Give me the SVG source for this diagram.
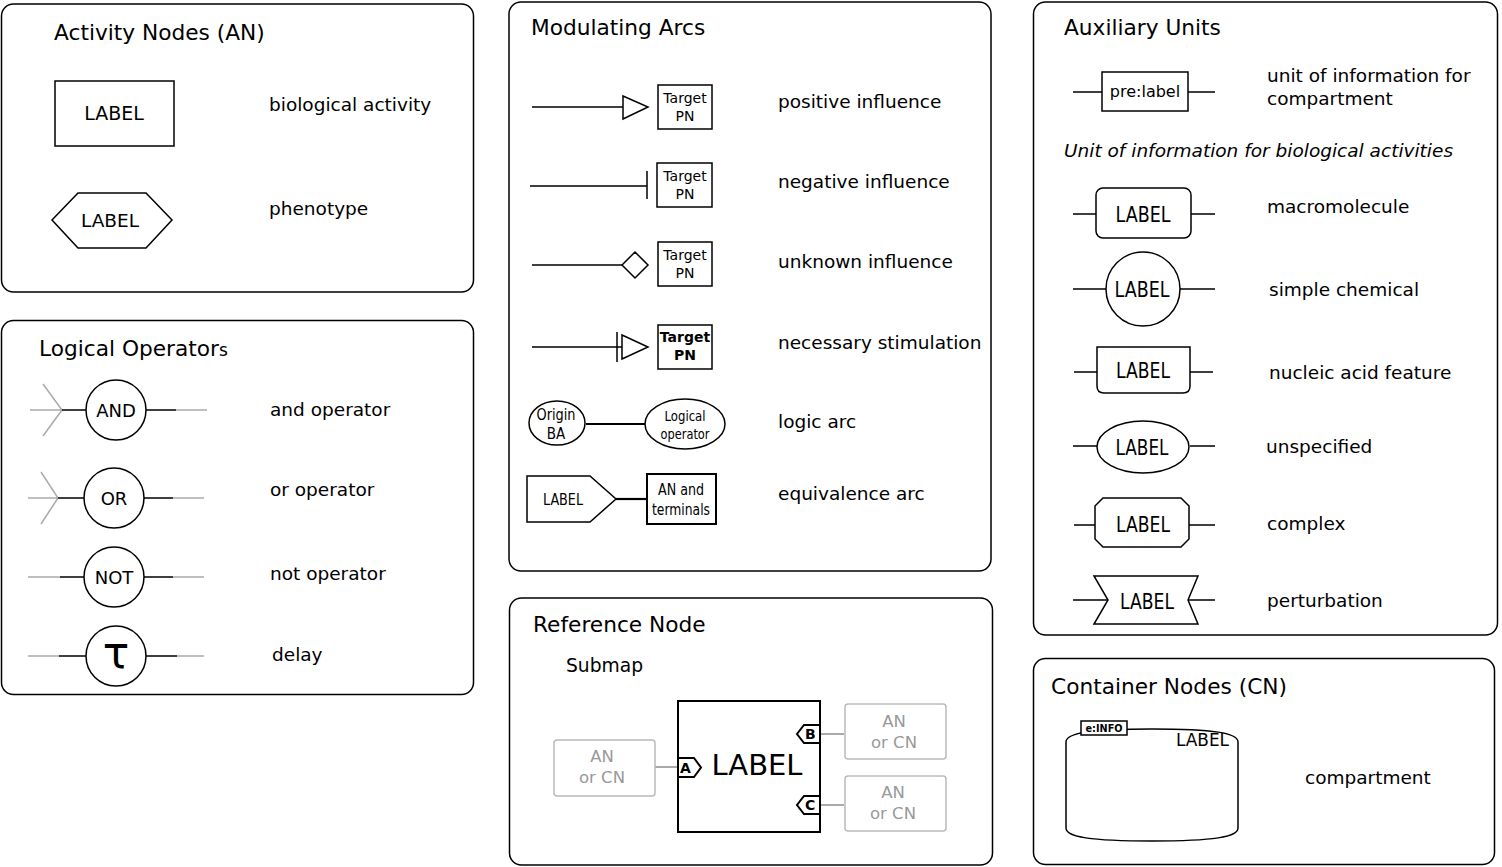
<svg xmlns="http://www.w3.org/2000/svg" width="1502" height="867" viewBox="0 0 1502 867">
<style>
text{font-family:"DejaVu Sans","Liberation Sans",sans-serif;fill:#000}
.panel{fill:#fff;stroke:#000;stroke-width:1.5}
.title{font-size:21.7px}
.lab{font-size:18.5px}
.s{fill:#fff;stroke:#000;stroke-width:1.5}
.s2{fill:#fff;stroke:#000;stroke-width:2}
.ln{stroke:#000;stroke-width:1.5;fill:none}
.ln2{stroke:#000;stroke-width:2.2;fill:none}
.gl{stroke:#aaa;stroke-width:1.5;fill:none}
.gl2{stroke:#aaa;stroke-width:2.2;fill:none}
.gbox{fill:#fff;stroke:#bbb;stroke-width:1.5}
.gt{fill:#999;font-size:16.5px}
.c{text-anchor:middle}
.port{font-size:14px;font-weight:bold}
.cond{font-family:"DejaVu Sans Condensed","DejaVu Sans",sans-serif;font-stretch:condensed}
</style>
<rect width="1502" height="867" fill="#fff"/>

<g id="panel-activity">
<rect class="panel" x="1.5" y="4" width="472" height="288" rx="12"/>
<text class="title" x="54" y="40">Activity Nodes (AN)</text>
<g id="an-activity"><rect class="s" x="55" y="81" width="119" height="65"/><text class="c" x="114" y="120" font-size="19">LABEL</text></g>
<text class="lab" x="269" y="111">biological activity</text>
<g id="an-phenotype"><polygon class="s" points="52,220 78,193 146,193 172,220 146,248 78,248"/><text class="c" x="110" y="227" font-size="18.5">LABEL</text></g>
<text class="lab" x="269" y="215">phenotype</text>
</g>

<g id="panel-logical">
<rect class="panel" x="1.5" y="320.5" width="472" height="374" rx="12"/>
<text class="title" x="39" y="356">Logical Operator<tspan font-size="17">s</tspan></text>
<g id="op-and">
<path class="gl" d="M30,410 H62 M43,384 L62,410 L43,436 M176,410 H207"/>
<path class="ln" d="M62,410 H86 M146,410 H176"/>
<circle class="s" cx="116" cy="410" r="30"/>
<text class="c" x="116" y="417" font-size="18">AND</text>
</g>
<text class="lab" x="270" y="416">and operator</text>
<g id="op-or">
<path class="gl" d="M28,498 H58 M41,472 L58,498 L41,524 M173,498 H204"/>
<path class="ln" d="M58,498 H84 M144,498 H173"/>
<circle class="s" cx="114" cy="498" r="30"/>
<text class="c" x="114" y="505" font-size="18">OR</text>
</g>
<text class="lab" x="270" y="496">or operator</text>
<g id="op-not">
<path class="gl" d="M28,577 H60 M173,577 H204"/>
<path class="ln" d="M60,577 H84 M144,577 H173"/>
<circle class="s" cx="114" cy="577" r="30"/>
<text class="c" x="114" y="584" font-size="18">NOT</text>
</g>
<text class="lab" x="270" y="580">not operator</text>
<g id="op-delay">
<path class="gl" d="M28,656 H59 M177,656 H204"/>
<path class="ln" d="M59,656 H86 M146,656 H177"/>
<circle class="s" cx="116" cy="656" r="30"/>
<text class="c" x="116" y="668" font-size="44" font-family="'DejaVu Serif','Liberation Serif',serif">τ</text>
</g>
<text class="lab" x="272" y="661">delay</text>
</g>

<g id="panel-arcs">
<rect class="panel" x="509" y="2" width="482" height="569" rx="12"/>
<text class="title" x="531" y="35">Modulating Arcs</text>
<g id="connectors">
<path class="ln" d="M532,107 H623"/>
<polygon class="s" points="623,96 648,107 623,119"/>
<path class="ln" d="M530,186 H647 M647,171 V199"/>
<path class="ln" d="M532,265 H622"/>
<polygon class="s" points="622,265 635,252 648,265 635,278"/>
<path class="ln" d="M532,347 H622 M617,332 V362"/>
<polygon class="s" points="622,335 648,347 622,359"/>
<path class="ln2" d="M586,424 H645"/>
<path class="ln2" d="M616,499 H647"/>
</g>
<g id="target-pos"><rect class="s" x="658" y="85" width="54" height="44"/><text class="c" x="685" y="103" font-size="14">Target</text><text class="c" x="685" y="121" font-size="14">PN</text></g>
<text class="lab" x="778" y="108">positive influence</text>
<g id="target-neg"><rect class="s" x="657" y="163" width="55" height="44"/><text class="c" x="685" y="181" font-size="14">Target</text><text class="c" x="685" y="199" font-size="14">PN</text></g>
<text class="lab" x="778" y="188">negative influence</text>
<g id="target-unk"><rect class="s" x="658" y="242" width="54" height="44"/><text class="c" x="685" y="260" font-size="14">Target</text><text class="c" x="685" y="278" font-size="14">PN</text></g>
<text class="lab" x="778" y="268">unknown influence</text>
<g id="target-nec"><rect class="s" x="658" y="325" width="54" height="44"/><text class="c" x="685" y="342" font-size="14" font-weight="bold">Target</text><text class="c" x="685" y="360" font-size="14" font-weight="bold">PN</text></g>
<text class="lab" x="778" y="349">necessary stimulation</text>
<g id="origin-ba"><ellipse class="s" cx="557" cy="423" rx="28" ry="22"/><text class="c cond" x="556" y="420" font-size="15" textLength="39" lengthAdjust="spacingAndGlyphs">Origin</text><text class="c cond" x="556" y="439" font-size="15">BA</text></g>
<g id="logical-op"><ellipse class="s" cx="685" cy="424" rx="40" ry="25"/><text class="c cond" x="685" y="421" font-size="13.5" textLength="41" lengthAdjust="spacingAndGlyphs">Logical</text><text class="c cond" x="685" y="439" font-size="13.5" textLength="49" lengthAdjust="spacingAndGlyphs">operator</text></g>
<text class="lab" x="778" y="428">logic arc</text>
<g id="equiv-label"><polygon class="s" points="527,476 590,476 616,499 590,522 527,522"/><text class="c cond" x="563" y="505" font-size="16" textLength="40" lengthAdjust="spacingAndGlyphs">LABEL</text></g>
<g id="an-terminals"><rect class="s2" x="647" y="474" width="69" height="50"/><text class="c cond" x="681" y="495" font-size="15.5" textLength="46" lengthAdjust="spacingAndGlyphs">AN and</text><text class="c cond" x="681" y="515" font-size="15.5" textLength="58" lengthAdjust="spacingAndGlyphs">terminals</text></g>
<text class="lab" x="778" y="500">equivalence arc</text>
</g>

<g id="panel-reference">
<rect class="panel" x="509.5" y="598" width="483" height="267" rx="12"/>
<text class="title" x="533" y="632">Reference Node</text>
<text x="566" y="672" font-size="18.7">Submap</text>
<path class="gl2" d="M655,767 H678 M820,734 H844 M820,805 H844"/>
<g id="ref-in"><rect class="gbox" x="554" y="740" width="101" height="56" rx="3"/><text class="gt c" x="602" y="762">AN</text><text class="gt c" x="602" y="783">or CN</text></g>
<g id="ref-b"><rect class="gbox" x="845" y="704" width="101" height="55" rx="3"/><text class="gt c" x="894" y="727">AN</text><text class="gt c" x="894" y="748">or CN</text></g>
<g id="ref-c"><rect class="gbox" x="845" y="776" width="101" height="55" rx="3"/><text class="gt c" x="893" y="798">AN</text><text class="gt c" x="893" y="819">or CN</text></g>
<g id="submap">
<rect class="s2" x="678" y="701" width="142" height="131"/>
<text class="c" x="757" y="775" font-size="29">LABEL</text>
<polygon class="s2" points="678,758 694,758 701,767.5 694,777 678,777"/>
<text class="port" x="680" y="773">A</text>
<polygon class="s2" points="820,725 804,725 797,734 804,743 820,743"/>
<text class="port" x="805" y="739">B</text>
<polygon class="s2" points="820,796 804,796 797,805 804,814 820,814"/>
<text class="port" x="805" y="810">C</text>
</g>
</g>

<g id="panel-auxiliary">
<rect class="panel" x="1033.5" y="2" width="464" height="633" rx="12"/>
<text class="title" x="1064" y="35">Auxiliary Units</text>
<g id="aux-preLabel">
<path class="ln" d="M1073,92 H1102 M1188,92 H1215"/>
<rect class="s" x="1102" y="72" width="86" height="39"/>
<text class="c" x="1145" y="97" font-size="16">pre:label</text>
</g>
<text class="lab" x="1267" y="82">unit of information for</text>
<text class="lab" x="1267" y="105">compartment</text>
<text class="lab" x="1064" y="157" font-style="italic">Unit of information for biological activities</text>
<g id="aux-macromolecule">
<path class="ln" d="M1073,214 H1096 M1191,214 H1215"/>
<rect class="s" x="1096" y="188" width="95" height="50" rx="7"/>
<text class="c cond" x="1143" y="222" font-size="21" textLength="55" lengthAdjust="spacingAndGlyphs">LABEL</text>
</g>
<text class="lab" x="1267" y="213">macromolecule</text>
<g id="aux-simple">
<path class="ln" d="M1073,289 H1106 M1180,289 H1215"/>
<circle class="s" cx="1143" cy="289" r="37"/>
<text class="c cond" x="1142" y="297" font-size="21" textLength="55" lengthAdjust="spacingAndGlyphs">LABEL</text>
</g>
<text class="lab" x="1269" y="296">simple chemical</text>
<g id="aux-nucleic">
<path class="ln" d="M1074,372 H1097 M1190,372 H1213"/>
<path class="s" d="M1097,347 H1190 V386 Q1190,393 1183,393 H1104 Q1097,393 1097,386 Z"/>
<text class="c cond" x="1143" y="378" font-size="21" textLength="54" lengthAdjust="spacingAndGlyphs">LABEL</text>
</g>
<text class="lab" x="1269" y="379">nucleic acid feature</text>
<g id="aux-unspecified">
<path class="ln" d="M1073,446 H1097 M1190,446 H1215"/>
<ellipse class="s" cx="1143" cy="447" rx="46" ry="26"/>
<text class="c cond" x="1142" y="455" font-size="21" textLength="53" lengthAdjust="spacingAndGlyphs">LABEL</text>
</g>
<text class="lab" x="1266" y="453">unspecified</text>
<g id="aux-complex">
<path class="ln" d="M1074,525 H1095 M1189,525 H1215"/>
<polygon class="s" points="1103,498 1181,498 1189,506 1189,539 1181,547 1103,547 1095,539 1095,506"/>
<text class="c cond" x="1143" y="532" font-size="21" textLength="54" lengthAdjust="spacingAndGlyphs">LABEL</text>
</g>
<text class="lab" x="1267" y="530">complex</text>
<g id="aux-perturbation">
<path class="ln" d="M1073,600 H1108 M1188,600 H1215"/>
<polygon class="s" points="1094,576 1198,576 1188,600 1198,624 1094,624 1108,600"/>
<text class="c cond" x="1147" y="609" font-size="21" textLength="54" lengthAdjust="spacingAndGlyphs">LABEL</text>
</g>
<text class="lab" x="1267" y="607">perturbation</text>
</g>

<g id="panel-container">
<rect class="panel" x="1033.5" y="658.5" width="461" height="206" rx="12"/>
<text class="title" x="1051" y="694">Container Nodes (CN)</text>
<g id="compartment">
<path class="s" d="M1066,742 C1066,733 1090,729 1152,729 C1214,729 1238,733 1238,742 L1238,828 C1238,837 1214,841 1152,841 C1090,841 1066,837 1066,828 Z"/>
<rect class="s" x="1081" y="721" width="46" height="14"/>
<text class="c" x="1104" y="732" font-size="9.7" font-weight="bold">e:INFO</text>
<text class="cond" x="1176" y="746" font-size="18" textLength="53" lengthAdjust="spacingAndGlyphs">LABEL</text>
</g>
<text class="lab" x="1305" y="784">compartment</text>
</g>
</svg>
